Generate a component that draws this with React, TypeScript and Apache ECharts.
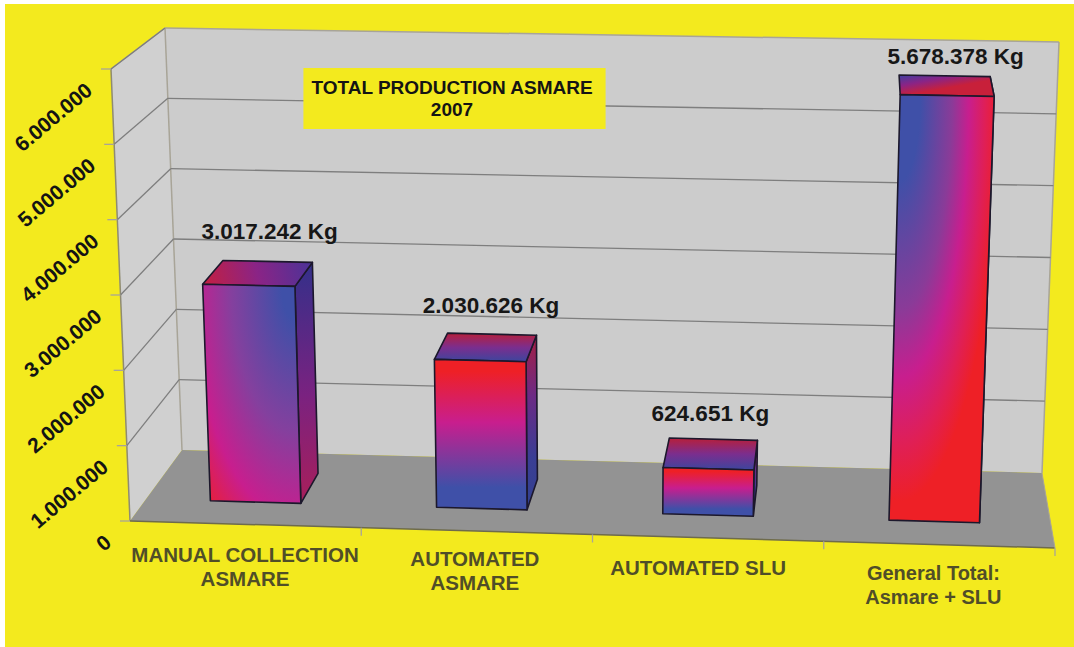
import React, { useEffect, useRef } from "react";
import * as echarts from "echarts";

// ---- data ----
const categories = ["MANUAL COLLECTION\nASMARE", "AUTOMATED\nASMARE", "AUTOMATED SLU", "General Total:\nAsmare + SLU"];
const production = [3017242, 2030626, 624651, 5678378];
const valueLabels = ["3.017.242 Kg", "2.030.626 Kg", "624.651 Kg", "5.678.378 Kg"];
const yTicks = [0, 1000000, 2000000, 3000000, 4000000, 5000000, 6000000];
const yTickLabels = ["0", "1.000.000", "2.000.000", "3.000.000", "4.000.000", "5.000.000", "6.000.000"];
const titleText = "TOTAL PRODUCTION ASMARE\n2007";

// ---- layout of the skewed 3D box ----
const GRID = { left: 130, top: 69, width: 925, height: 452 };
const BOX = {
  fbl: [130, 521], ftl: [111, 69], fbr: [1055, 548], ftr: [1074, 88],
  bbl: [182, 450], btl: [165, 28], bbr: [1042, 473], btr: [1059, 42],
};
const lerp = (a: number, b: number, t: number) => a + (b - a) * t;
function project(u: number, v: number, d: number): number[] {
  const out: number[] = [];
  for (let k = 0; k < 2; k++) {
    const fb = lerp(BOX.fbl[k], BOX.fbr[k], u);
    const ft = lerp(BOX.ftl[k], BOX.ftr[k], u);
    const bb = lerp(BOX.bbl[k], BOX.bbr[k], u);
    const bt = lerp(BOX.btl[k], BOX.btr[k], u);
    out.push(lerp(lerp(fb, ft, v), lerp(bb, bt, v), d));
  }
  return out;
}
const uOf = (px: number) => (px - GRID.left) / GRID.width;
const vOf = (py: number) => (GRID.top + GRID.height - py) / GRID.height;

const BAR_HALF = 0.05;
const BAR_SHIFT = -0.004;
const BAR_D0 = 0.31;
const BAR_D1 = 0.73;
// perspective foreshortening of the bars: nearer the left they read slightly shorter
const BAR_HEIGHT_LEFT = 0.967;
const BAR_HEIGHT_RIGHT = 1.005;

const BLUE = "#3F50A8";
const PINK = "#C81E8E";
const RED = "#EE2026";

type Stops = [number, string][];
type Box = { x: number; y: number; w: number; h: number };
const toStops = (stops: Stops) => stops.map(([offset, color]) => ({ offset, color }));
const boxOf = (pts: number[][]): Box => {
  const xs = pts.map((p) => p[0]);
  const ys = pts.map((p) => p[1]);
  const x = Math.min(...xs);
  const y = Math.min(...ys);
  return { x, y, w: Math.max(...xs) - x, h: Math.max(...ys) - y };
};
// gradient given as fractions of the face's box, resolved to page pixels so that the angle is a true one
const lg = (b: Box, x0: number, y0: number, x1: number, y1: number, stops: Stops) =>
  new echarts.graphic.LinearGradient(b.x + x0 * b.w, b.y + y0 * b.h, b.x + x1 * b.w, b.y + y1 * b.h, toStops(stops), true);
// elliptical glow that follows the face's box (fractions of the box)
const rg = (x: number, y: number, r: number, stops: Stops) =>
  new echarts.graphic.RadialGradient(x, y, r, toStops(stops), false);

const redBlueFront = (b: Box) => lg(b, 0, 0, 0, 1, [[0, RED], [0.08, RED], [0.42, PINK], [0.85, BLUE], [1, BLUE]]);
const redBlueTop = (b: Box) => lg(b, 0, 0, 0, 1, [[0, "#B71F3A"], [0.5, "#7B2E8E"], [1, "#3C469E"]]);
const redBlueSide = (b: Box) => lg(b, 0, 0, 0, 1, [[0, "#A51F42"], [0.35, "#6C2A85"], [0.7, "#3A3E95"], [1, "#33408F"]]);
const faceFills: { front: (b: Box) => any; top: (b: Box) => any; side: (b: Box) => any }[] = [
  {
    front: () => rg(0.97, 0, 1.41, [[0, BLUE], [0.12, BLUE], [0.48, "#84409E"], [0.76, PINK], [1, RED]]),
    top: (b) => lg(b, 0, 1, 1, 0, [[0, "#C51F3F"], [0.5, "#8A2486"], [1, "#4A3398"]]),
    side: (b) => lg(b, 0, 0, 0, 1, [[0, "#33308A"], [0.55, "#7A2280"], [1, "#A81F5A"]]),
  },
  { front: redBlueFront, top: redBlueTop, side: redBlueSide },
  { front: redBlueFront, top: redBlueTop, side: redBlueSide },
  {
    front: () => rg(0.1, 0, 1, [[0, BLUE], [0.2, BLUE], [0.5, "#8A3B98"], [0.66, PINK], [0.82, "#E01F55"], [0.95, RED], [1, RED]]),
    top: (b) => lg(b, 0, 0, 0.04, 0.98, [[0, "#3F3FA0"], [0.5, "#8A2486"], [1, "#C8203A"]]),
    side: (b) => lg(b, 0, 0, 0, 1, [[0, "#A51F42"], [1, "#A51F42"]]),
  },
];

const labelNudge = [[2, -30], [-1, -29], [-3, -26], [11, -19]];
const xLabelNudge = [-0.6, -2, -10, -6];
const xLabelY = [566.5, 570, 567, 585];
const xLabelSize = [20.5, 20.5, 20.5, 20];

const FONT = "'Liberation Sans', Arial, sans-serif";
const WALL = "#CCCCCC";
const SIDE_WALL = "#D0D0D0";
const FLOOR = "#939393";
const GRIDLINE = "#7E7E7E";
const EDGE = "#A8A498";
const EDGE_DARK = "#6E6B4C";
const TEXT_OLIVE = "#504E28";
const YELLOW = "#F3EA1E";

const polyg = (points: number[][], style: any) => ({ type: "polygon", shape: { points }, style });
const seg = (a: number[], b: number[], stroke: string, lineWidth: number) => ({
  type: "line",
  shape: { x1: a[0], y1: a[1], x2: b[0], y2: b[1] },
  style: { stroke, lineWidth, fill: null },
});

function renderWalls() {
  const P = project;
  return {
    type: "group",
    children: [
      polyg([P(0, 0, 1), P(0, 1, 1), P(1, 1, 1), P(1, 0, 1)], { fill: WALL }),
      polyg([P(0, 0, 0), P(0, 1, 0), P(0, 1, 1), P(0, 0, 1)], { fill: SIDE_WALL }),
      polyg([P(0, 0, 0), P(0, 0, 1), P(1, 0, 1), P(1, 0, 0)], { fill: FLOOR }),
      seg(P(0, 1, 1), P(1, 1, 1), EDGE, 1.5),
      seg(P(0, 1, 0), P(0, 1, 1), EDGE, 1.5),
      seg(P(0, 0, 1), P(0, 1, 1), EDGE, 1.5),
      seg(P(1, 0, 1), P(1, 1, 1), EDGE, 1.5),
      seg(P(0, 0, 0), P(0, 1, 0), "#8F8B72", 1.5),
      seg(P(0, 0, 0), P(1, 0, 0), EDGE_DARK, 1.5),
      seg(P(1, 0, 0), P(1, 0, 1), EDGE, 1),
    ],
  };
}

function renderYTick(params: any, api: any) {
  const value = api.value(1);
  const py = api.coord([0, value])[1];
  const v = vOf(py);
  const front = project(0, v, 0);
  const back = project(0, v, 1);
  const right = project(1, v, 1);
  const children: any[] = [];
  if (value > 0) {
    children.push(seg(front, back, GRIDLINE, 1.3));
    if (value < 6000000) children.push(seg(back, right, GRIDLINE, 1.3));
  }
  children.push(seg([front[0] - 10, front[1]], front, EDGE, 1.3));
  children.push({
    type: "text",
    x: front[0] - 22,
    y: front[1] + 18,
    rotation: (40 * Math.PI) / 180,
    style: {
      text: yTickLabels[params.dataIndex],
      align: "right",
      verticalAlign: "middle",
      textAlign: "right",
      textVerticalAlign: "middle",
      fontFamily: FONT,
      fontWeight: "bold",
      fontSize: 21,
      fill: "#141414",
    },
  });
  return { type: "group", children };
}

function renderBar(params: any, api: any) {
  const i = params.dataIndex;
  const value = api.value(1);
  const base = api.coord([i, 0]);
  const topPt = api.coord([i, value]);
  const uc = uOf(base[0]) + BAR_SHIFT;
  const v = vOf(topPt[1]) * lerp(BAR_HEIGHT_LEFT, BAR_HEIGHT_RIGHT, uc);
  const u0 = uc - BAR_HALF;
  const u1 = uc + BAR_HALF;
  const P = project;
  const fills = faceFills[i];
  const stroke = "#1C182C";
  const lw = 1.6;
  const backCentre = P(uc, v, BAR_D1);
  const nudge = labelNudge[i];
  const side = [P(u1, 0, BAR_D0), P(u1, v, BAR_D0), P(u1, v, BAR_D1), P(u1, 0, BAR_D1)];
  const top = [P(u0, v, BAR_D0), P(u1, v, BAR_D0), P(u1, v, BAR_D1), P(u0, v, BAR_D1)];
  const front = [P(u0, 0, BAR_D0), P(u0, v, BAR_D0), P(u1, v, BAR_D0), P(u1, 0, BAR_D0)];
  return {
    type: "group",
    children: [
      polyg(side, { fill: fills.side(boxOf(side)), stroke, lineWidth: lw, lineJoin: "round" }),
      polyg(top, { fill: fills.top(boxOf(top)), stroke, lineWidth: lw, lineJoin: "round" }),
      polyg(front, { fill: fills.front(boxOf(front)), stroke, lineWidth: lw, lineJoin: "round" }),
      {
        type: "text",
        x: backCentre[0] + nudge[0],
        y: backCentre[1] + nudge[1],
        style: {
          text: valueLabels[i],
          align: "center",
          verticalAlign: "middle",
          textAlign: "center",
          textVerticalAlign: "middle",
          fontFamily: FONT,
          fontWeight: "bold",
          fontSize: 22.5,
          fill: "#171717",
        },
      },
    ],
  };
}

function renderXLabel(params: any, api: any) {
  const i = params.dataIndex;
  const cx = api.coord([i, 0])[0];
  const children: any[] = [];
  const tickU = (i + 1) / categories.length;
  const p = project(tickU, 0, 0);
  children.push(seg(p, [p[0], p[1] + 8], EDGE, 1.3));
  children.push({
    type: "text",
    x: cx + xLabelNudge[i],
    y: xLabelY[i],
    style: {
      text: categories[i],
      align: "center",
      verticalAlign: "middle",
      textAlign: "center",
      textVerticalAlign: "middle",
      lineHeight: 24,
      fontFamily: FONT,
      fontWeight: "bold",
      fontSize: xLabelSize[i],
      fill: TEXT_OLIVE,
    },
  });
  return { type: "group", children };
}

export default function App() {
  const ref = useRef<HTMLDivElement>(null);
  useEffect(() => {
    const chart = echarts.init(ref.current!, undefined, { renderer: "svg" });
    const barData = production.map((v, i) => [i, v]);
    chart.setOption({
      animation: false,
      backgroundColor: "#FFFFFF",
      title: {
        text: titleText,
        left: 444.5,
        top: 68,
        textAlign: "center",
        padding: [8.5, 12.5, 8.5, 7.5],
        backgroundColor: YELLOW,
        textStyle: { fontFamily: FONT, fontWeight: "bold", fontSize: 19, lineHeight: 22, color: "#141414" },
        z: 6,
      },
      graphic: [
        { type: "rect", z: 0, silent: true, shape: { x: 5, y: 4, width: 1069, height: 643 }, style: { fill: YELLOW } },
      ],
      grid: { left: GRID.left, top: GRID.top, width: GRID.width, height: GRID.height },
      xAxis: { type: "category", data: categories, show: false, boundaryGap: true },
      yAxis: { type: "value", min: 0, max: 6000000, interval: 1000000, show: false },
      series: [
        { type: "custom", z: 1, silent: true, coordinateSystem: "cartesian2d", data: [[0, 0]], renderItem: renderWalls },
        { type: "custom", z: 2, silent: true, coordinateSystem: "cartesian2d", data: yTicks.map((t) => [0, t]), renderItem: renderYTick },
        { type: "custom", z: 2, silent: true, coordinateSystem: "cartesian2d", data: categories.map((_, i) => [i, 0]), renderItem: renderXLabel },
        { type: "custom", z: 3, silent: true, coordinateSystem: "cartesian2d", data: barData, renderItem: renderBar },
      ],
    });
    return () => chart.dispose();
  }, []);
  return <div ref={ref} style={{ position: "fixed", left: 0, top: 0, width: 1074, height: 647 }} />;
}
